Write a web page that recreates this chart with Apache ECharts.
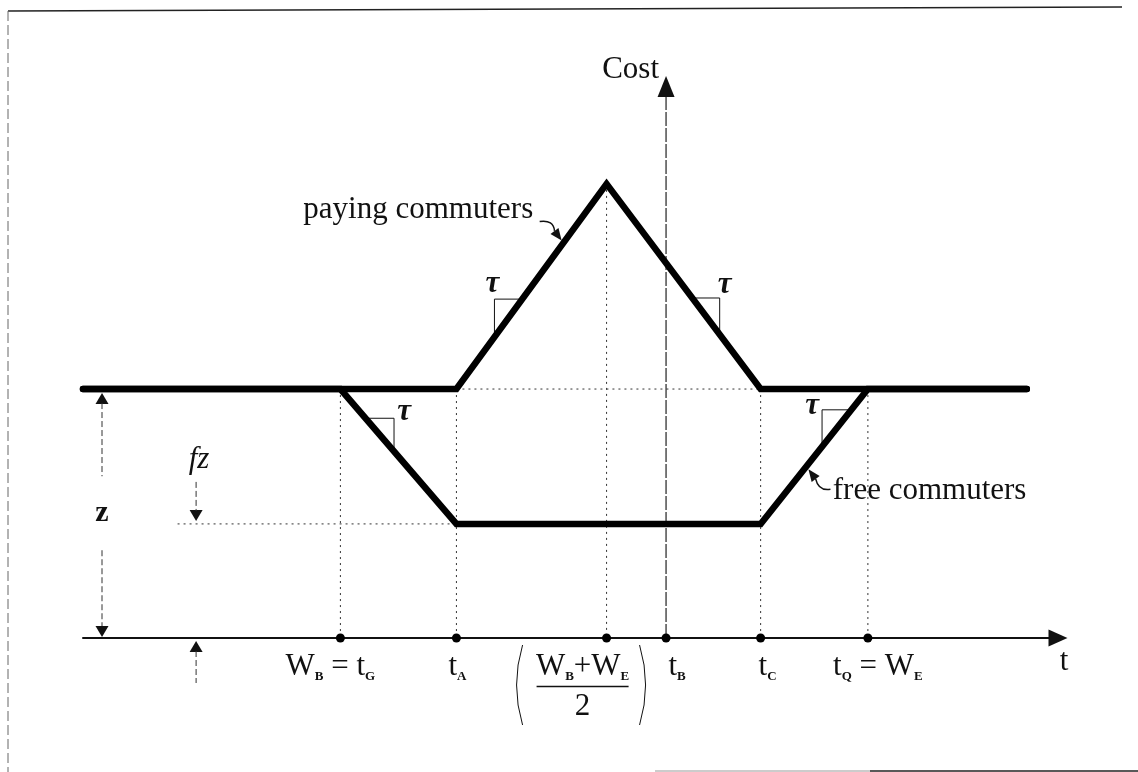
<!DOCTYPE html>
<html>
<head>
<meta charset="utf-8">
<title>Cost</title>
<style>
	html, body { margin: 0; padding: 0; background: #fff; }
	#main { width: 1138px; height: 772px; }
</style>
<script src="https://cdn.jsdelivr.net/npm/echarts@6/dist/echarts.min.js"></script>
</head>
<body>
<div id="main"></div>
<script>
/*points marked on the t axis*/
var tNames = ['W_B = t_G', 't_A', '(W_B+W_E)/2', 't_B', 't_C', 't_Q = W_E'];
var tValues = [26.4, 38.3, 53.7, 59.8, 69.5, 80.5];

/*paying commuters*/
var payingT = [0, 38.3, 53.7, 69.5, 96.8];
var payingCost = [44.3, 44.3, 80.8, 44.3, 44.3];

/*free commuters*/
var freeT = [0, 26.4, 38.3, 69.5, 80.5, 96.8];
var freeCost = [44.3, 44.3, 20.3, 20.3, 44.3, 44.3];

/*levels z and fz*/
var zCost = 44.3;
var fzCost = 20.3;

/*slope (tau) markers: corner point, line and segment they sit on*/
var tauCorner = [[42.2, 60.3], [65.3, 60.5], [31.9, 39.1], [75.8, 40.6]];
var tauLine = ['paying', 'paying', 'free', 'free'];
var tauSeg = [1, 2, 1, 3];

/*where the pointers touch the lines*/
var payArrowT = 49.3;
var freeArrowT = 74.2;

window.onload = function() {
	var ink = '#111';
	var serif = '"Liberation Serif", "DejaVu Serif", serif';

	function costAt(ts, cs, t) {
		for(var i = 0; i < ts.length - 1; i++) {
			if(t >= ts[i] && t <= ts[i + 1]) {
				return cs[i] + (t - ts[i]) * (cs[i + 1] - cs[i]) / (ts[i + 1] - ts[i]);
			}
		}
		return cs[cs.length - 1];
	}

	/*W_B -> rich text with subscript*/
	function sub(str) {
		return '{m|' + str.replace(/_([A-Z])/g, '}{s|$1}{m|') + '}';
	}
	var tLabels = tNames.map(function(name) {
		var frac = name.match(/^\((.*)\)\/(\d)$/);
		if(frac) {
			return sub(frac[1]) + '\n{bar| }\n{m|' + frac[2] + '}';
		}
		return sub(name);
	});
	var labelShift = [-10, 1, -24, 11, 7, 10];

	var chart = echarts.init(document.getElementById('main'));

	/*annotations: guides, Cost axis, tau marks, dimensions, pointers*/
	function drawNotes(params, api) {
		var kids = [];
		function pt(t, c) {
			return api.coord([t, c]);
		}
		function seg(a, b, style) {
			kids.push({ type: 'line', shape: { x1: a[0], y1: a[1], x2: b[0], y2: b[1] }, style: style });
		}
		function text(str, x, y, font, align) {
			kids.push({
				type: 'text',
				style: { text: str, x: x, y: y, font: font, fill: ink, align: align || 'center', verticalAlign: 'middle' }
			});
		}
		function head(tip, dx, dy, len, half) {
			var bx = tip[0] - dx * len;
			var by = tip[1] - dy * len;
			kids.push({
				type: 'polygon',
				shape: { points: [tip, [bx - dy * half, by + dx * half], [bx + dy * half, by - dx * half]] },
				style: { fill: ink }
			});
		}
		function curve(x1, y1, cx, cy, x2, y2, w) {
			kids.push({
				type: 'bezierCurve',
				shape: { x1: x1, y1: y1, cpx1: cx, cpy1: cy, x2: x2, y2: y2 },
				style: { stroke: ink, lineWidth: w, fill: null }
			});
		}
		var dotted = { stroke: '#333', lineWidth: 1, lineDash: [2, 4] };
		var dashed = { stroke: '#333', lineWidth: 1, lineDash: [6, 3] };

		/*dotted guides*/
		seg(pt(tValues[1], zCost), pt(tValues[4], zCost), dotted);
		seg(pt(9.7, fzCost), pt(tValues[1], fzCost), dotted);
		for(var i = 0; i < tValues.length; i++) {
			if(i === 3) continue;
			seg(pt(tValues[i], costAt(payingT, payingCost, tValues[i])), pt(tValues[i], 0), dotted);
		}

		/*Cost axis at t_B*/
		var top = pt(tValues[3], 100);
		seg(pt(tValues[3], 0), [top[0], top[1] + 18], { stroke: '#222', lineWidth: 1.2, lineDash: [14, 2] });
		head(top, 0, -1, 21, 8.5);
		text('Cost', top[0] - 7, top[1] - 6.5, '31px ' + serif, 'right');

		/*t axis name*/
		var tEnd = pt(100, 0);
		text('t', tEnd[0] + 6, tEnd[1] + 24, '31px ' + serif);

		/*tau slope marks*/
		var tauShift = [[-2, -15], [5, -13], [10, -6], [-10, -4]];
		for(var k = 0; k < tauCorner.length; k++) {
			var ts = tauLine[k] === 'paying' ? payingT : freeT;
			var cs = tauLine[k] === 'paying' ? payingCost : freeCost;
			var s = tauSeg[k];
			var tc = tauCorner[k][0], cc = tauCorner[k][1];
			var hT = ts[s] + (cc - cs[s]) * (ts[s + 1] - ts[s]) / (cs[s + 1] - cs[s]);
			var vC = cs[s] + (tc - ts[s]) * (cs[s + 1] - cs[s]) / (ts[s + 1] - ts[s]);
			var corner = pt(tc, cc);
			kids.push({
				type: 'polyline',
				shape: { points: [pt(hT, cc), corner, pt(tc, vC)] },
				style: { stroke: ink, lineWidth: 1, fill: null }
			});
			text('\u03c4', corner[0] + tauShift[k][0], corner[1] + tauShift[k][1], 'italic bold 31px ' + serif);
		}

		/*z dimension*/
		var zTop = pt(1.95, zCost), zBot = pt(1.95, 0), zMid = pt(1.95, 22.2);
		head([zTop[0], zTop[1] + 4], 0, -1, 11, 6.5);
		seg([zTop[0], zTop[1] + 14], [zMid[0], zMid[1] - 37], dashed);
		text('z', zMid[0], zMid[1], 'bold 30px ' + serif);
		seg([zMid[0], zMid[1] + 37], [zBot[0], zBot[1] - 11], dashed);
		head([zBot[0], zBot[1] - 1], 0, 1, 11, 6.5);

		/*fz dimension*/
		var fTop = pt(11.6, fzCost), fBot = pt(11.6, 0), fLab = pt(11.6, 31.7);
		head([fTop[0], fTop[1] - 3], 0, 1, 11, 6.5);
		seg([fTop[0], fTop[1] - 42], [fTop[0], fTop[1] - 13], dashed);
		text('fz', fLab[0] + 3, fLab[1], 'italic 31px ' + serif);
		head([fBot[0], fBot[1] + 3], 0, -1, 11, 6.5);
		seg([fBot[0], fBot[1] + 13], [fBot[0], fBot[1] + 45], dashed);

		/*paying commuters pointer*/
		var pa = pt(payArrowT, costAt(payingT, payingCost, payArrowT));
		var pTip = [pa[0] - 2, pa[1] - 2];
		head(pTip, 0.6, 0.8, 12, 5);
		curve(pTip[0] - 22, pTip[1] - 19, pTip[0] - 8, pTip[1] - 21, pTip[0] - 7.2, pTip[1] - 9.6, 1.5);
		var pl = pt(22.6, 76.1);
		text('paying commuters', pl[0], pl[1], '31px ' + serif, 'left');

		/*free commuters pointer*/
		var fa = pt(freeArrowT, costAt(freeT, freeCost, freeArrowT));
		var fTip = [fa[0] + 2, fa[1] + 3];
		head(fTip, -0.6, -0.8, 12, 5);
		curve(fTip[0] + 22, fTip[1] + 20, fTip[0] + 10, fTip[1] + 22, fTip[0] + 7.2, fTip[1] + 9.6, 1.5);
		var fl = pt(76.9, 26.1);
		text('free commuters', fl[0], fl[1], '31px ' + serif, 'left');

		/*brackets round the midpoint fraction*/
		var md = pt(tValues[2], 0);
		curve(md[0] - 84, md[1] + 7, md[0] - 96, md[1] + 47, md[0] - 84, md[1] + 87, 1);
		curve(md[0] + 33, md[1] + 7, md[0] + 45, md[1] + 47, md[0] + 33, md[1] + 87, 1);

		return { type: 'group', children: kids };
	}

	var option = {
		animation: false,
		backgroundColor: '#fff',
		grid: { left: 83, right: 80, top: 76, bottom: 134 },
		xAxis: {
			type: 'value',
			min: 0,
			max: 100,
			axisLine: {
				show: true,
				symbol: ['none', 'triangle'],
				symbolSize: [17, 19],
				lineStyle: { color: ink, width: 2 }
			},
			axisTick: { show: false },
			axisLabel: { show: false },
			splitLine: { show: false }
		},
		yAxis: {
			type: 'value',
			min: 0,
			max: 100,
			axisLine: { show: false },
			axisTick: { show: false },
			axisLabel: { show: false },
			splitLine: { show: false }
		},
		/*scanned page frame*/
		graphic: [
			{ type: 'line', z: 0, shape: { x1: 8, y1: 11, x2: 1122, y2: 7 }, style: { stroke: '#222', lineWidth: 1.5 } },
			{ type: 'line', z: 0, shape: { x1: 8, y1: 11, x2: 8, y2: 772 }, style: { stroke: '#666', lineWidth: 1, lineDash: [10, 4] } },
			{ type: 'line', z: 0, shape: { x1: 655, y1: 771, x2: 870, y2: 771 }, style: { stroke: '#bbb', lineWidth: 1.5 } },
			{ type: 'line', z: 0, shape: { x1: 870, y1: 771, x2: 1138, y2: 771 }, style: { stroke: '#222', lineWidth: 1.5 } }
		],
		series: [{
			name: 'notes',
			type: 'custom',
			z: 1,
			silent: true,
			data: [[0, 0]],
			renderItem: drawNotes
		}, {
			name: 'free commuters',
			type: 'line',
			z: 3,
			clip: false,
			silent: true,
			symbol: 'none',
			data: freeT.map(function(t, i) { return [t, freeCost[i]]; }),
			lineStyle: { color: '#000', width: 6.5, cap: 'round', join: 'miter' }
		}, {
			name: 'paying commuters',
			type: 'line',
			z: 3,
			clip: false,
			silent: true,
			symbol: 'none',
			data: payingT.map(function(t, i) { return [t, payingCost[i]]; }),
			lineStyle: { color: '#000', width: 6.5, cap: 'round', join: 'miter' }
		}, {
			name: 'marks',
			type: 'scatter',
			z: 4,
			clip: false,
			silent: true,
			symbolSize: 9,
			itemStyle: { color: '#000', opacity: 1 },
			data: tValues.map(function(t, i) {
				return { value: [t, 0], label: { offset: [labelShift[i], 0] } };
			}),
			label: {
				show: true,
				position: 'bottom',
				distance: 7,
				align: 'center',
				color: ink,
				opacity: 1,
				textBorderWidth: 0,
				formatter: function(p) {
					return tLabels[p.dataIndex];
				},
				rich: {
					m: { fontFamily: serif, fontSize: 31, lineHeight: 34, color: ink, align: 'center', textBorderWidth: 0 },
					s: { fontFamily: serif, fontSize: 13, fontWeight: 'bold', verticalAlign: 'bottom', color: ink, align: 'center', textBorderWidth: 0 },
					bar: { width: 92, height: 1.5, lineHeight: 6, backgroundColor: ink, align: 'center' }
				}
			}
		}]
	};
	chart.setOption(option);
}
</script>
</body>
</html>
